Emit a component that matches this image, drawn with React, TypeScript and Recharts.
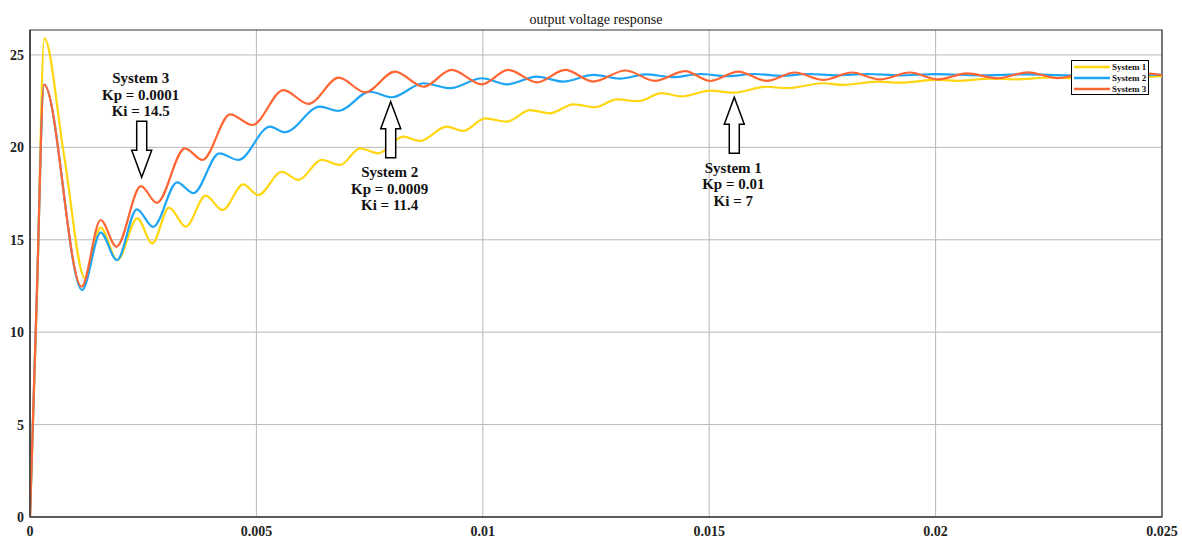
import React from "react";
import {
  LineChart,
  Line,
  XAxis,
  YAxis,
  CartesianGrid,
  ReferenceArea,
  ReferenceDot,
} from "recharts";

// ---- data ----
const xTicks = [0, 0.005, 0.01, 0.015, 0.02, 0.025];
const yTicks = [0, 5, 10, 15, 20, 25];
const yMax = 26.35;

const seriesNames = ["System 1", "System 2", "System 3"];
const seriesColors = ["#FFD60F", "#1FA5F5", "#FF6633"];

const sys1T = [0, 0.00015, 0.000316, 0.00075, 0.001215, 0.00156, 0.00193, 0.00237, 0.0027, 0.00307, 0.00344, 0.00388, 0.00425, 0.00471, 0.00504, 0.00556, 0.00593, 0.00644, 0.00685, 0.00729, 0.00769, 0.00824, 0.00861, 0.0092, 0.00957, 0.01005, 0.01053, 0.01104, 0.01148, 0.012, 0.01248, 0.01296, 0.01343, 0.01395, 0.01439, 0.01502, 0.01553, 0.01627, 0.01671, 0.01752, 0.01796, 0.0187, 0.01921, 0.02002, 0.02055, 0.0212, 0.0218, 0.0225, 0.0231, 0.0237, 0.0243, 0.025];
const sys1V = [0, 11.5, 25.9, 19.6, 12.92, 15.66, 13.9, 16.16, 14.81, 16.74, 15.71, 17.39, 16.61, 18.0, 17.42, 18.68, 18.24, 19.32, 19.05, 19.95, 19.68, 20.58, 20.35, 21.12, 20.89, 21.57, 21.39, 22.02, 21.84, 22.33, 22.17, 22.6, 22.5, 22.93, 22.76, 23.07, 22.96, 23.28, 23.2, 23.47, 23.38, 23.56, 23.5, 23.65, 23.6, 23.72, 23.68, 23.78, 23.74, 23.82, 23.78, 23.85];

const sys2T = [0, 0.00015, 0.00031, 0.00115, 0.00156, 0.00192, 0.00236, 0.00272, 0.00325, 0.00361, 0.00418, 0.0046, 0.0053, 0.00563, 0.0064, 0.00681, 0.00751, 0.00799, 0.00869, 0.00928, 0.00998, 0.01053, 0.01119, 0.01178, 0.01244, 0.01303, 0.0136, 0.0142, 0.0148, 0.0154, 0.016, 0.0166, 0.0172, 0.0178, 0.0185, 0.0192, 0.02, 0.021, 0.022, 0.023, 0.024, 0.025];
const sys2V = [0, 12, 23.4, 12.28, 15.39, 13.9, 16.65, 15.7, 18.11, 17.52, 19.68, 19.32, 21.12, 20.82, 22.2, 21.97, 23.01, 22.71, 23.47, 23.2, 23.74, 23.41, 23.83, 23.56, 23.92, 23.72, 23.95, 23.8, 23.97, 23.85, 23.97, 23.87, 23.97, 23.9, 23.97, 23.9, 23.96, 23.9, 23.95, 23.9, 23.95, 23.92];

const sys3T = [0, 0.00015, 0.00031, 0.00114, 0.00156, 0.00191, 0.00245, 0.0028, 0.00342, 0.00381, 0.00442, 0.00491, 0.0056, 0.00615, 0.00682, 0.0074, 0.00806, 0.00869, 0.00931, 0.00998, 0.01056, 0.0112, 0.01182, 0.01244, 0.01315, 0.0138, 0.01447, 0.01502, 0.01564, 0.01627, 0.01689, 0.01752, 0.01815, 0.01877, 0.01943, 0.02006, 0.02069, 0.02137, 0.02204, 0.0227, 0.02335, 0.024, 0.02465, 0.025];
const sys3V = [0, 12, 23.4, 12.46, 16.07, 14.63, 17.9, 17.0, 19.95, 19.32, 21.79, 21.21, 23.1, 22.35, 23.77, 22.98, 24.1, 23.28, 24.19, 23.41, 24.19, 23.52, 24.19, 23.56, 24.16, 23.6, 24.13, 23.59, 24.1, 23.6, 24.05, 23.65, 24.05, 23.68, 24.05, 23.68, 24.0, 23.74, 24.06, 23.75, 24.03, 23.78, 24.0, 23.9];

// annotation anchors (arrow tips) in data units
const annoT = [0.015554, 0.007966, 0.002467];
const annoV = [22.71, 22.47, 18.38];
const annoDir = ["up", "up", "down"];
const annoLines = [
  ["System 1", "Kp = 0.01", "Ki = 7"],
  ["System 2", "Kp = 0.0009", "Ki = 11.4"],
  ["System 3", "Kp = 0.0001", "Ki = 14.5"],
];

const build = (ts: number[], vs: number[]) => ts.map((t, i) => ({ t, v: vs[i] }));
const seriesData = [build(sys1T, sys1V), build(sys2T, sys2V), build(sys3T, sys3V)];

const FONT = "'Liberation Serif', 'Times New Roman', serif";

const makeArrow = (dir: string, lines: string[]) => (props: any) => {
  const { cx, cy } = props;
  if (cx == null || cy == null) return <g />;
  const s = dir === "up" ? 1 : -1;
  const headLen = 27;
  const headHalf = 10;
  const shaftHalf = 5;
  const shaftLen = 56;
  const pts = [
    [cx, cy],
    [cx + headHalf, cy + s * headLen],
    [cx + shaftHalf, cy + s * headLen],
    [cx + shaftHalf, cy + s * shaftLen],
    [cx - shaftHalf, cy + s * shaftLen],
    [cx - shaftHalf, cy + s * headLen],
    [cx - headHalf, cy + s * headLen],
  ]
    .map((p) => p.join(","))
    .join(" ");
  const baseY = dir === "up" ? cy + 75.5 : cy - 94;
  return (
    <g>
      <polygon points={pts} fill="#ffffff" stroke="#000000" strokeWidth={1.5} strokeLinejoin="miter" />
      {lines.map((l, i) => (
        <text
          key={i}
          x={cx - 1}
          y={baseY + i * 16.5}
          textAnchor="middle"
          fontFamily={FONT}
          fontWeight="bold"
          fontSize={15}
          fill="#111"
        >
          {l}
        </text>
      ))}
    </g>
  );
};

const LegendBox = () => (
  <div
    style={{
      position: "absolute",
      left: 1071,
      top: 60,
      width: 76,
      height: 33,
      border: "1px solid #000",
      background: "#fff",
    }}
  >
    {seriesNames.map((n, i) => (
      <div key={n} style={{ display: "flex", alignItems: "center", height: 11 }}>
        <svg width={38} height={6} style={{ display: "block" }}>
          <line x1={2} y1={3} x2={38} y2={3} stroke={seriesColors[i]} strokeWidth={2.5} />
        </svg>
        <span
          style={{
            fontFamily: FONT,
            fontWeight: "bold",
            fontSize: 9,
            lineHeight: "10px",
            color: "#111",
            marginLeft: 2,
            whiteSpace: "nowrap",
          }}
        >
          {n}
        </span>
      </div>
    ))}
  </div>
);

export default function App() {
  return (
    <div style={{ position: "absolute", left: 0, top: 0, width: 1182, height: 538, background: "#fff" }}>
      <div
        style={{
          position: "absolute",
          left: 30,
          width: 1132,
          top: 12,
          textAlign: "center",
          fontFamily: FONT,
          fontSize: 14,
          color: "#111",
          lineHeight: "16px",
        }}
      >
        output voltage response
      </div>
      <LineChart width={1182} height={538} margin={{ top: 30, right: 20, bottom: 0, left: 0 }}>
        <CartesianGrid stroke="#b8b8b8" strokeWidth={1} horizontalValues={yTicks} verticalValues={xTicks} />
        <XAxis
          dataKey="t"
          type="number"
          domain={[0, 0.025]}
          ticks={xTicks}
          allowDataOverflow
          height={21}
          tickLine={false}
          tickSize={5}
          tickMargin={4}
          axisLine={{ stroke: "#333", strokeWidth: 1.2 }}
          tick={{ fontFamily: FONT, fontWeight: "bold", fontSize: 14, fill: "#222" }}
          interval={0}
        />
        <YAxis
          dataKey="v"
          type="number"
          domain={[0, yMax]}
          ticks={yTicks}
          allowDataOverflow
          width={30}
          tickLine={false}
          tickSize={4}
          tickMargin={2}
          axisLine={{ stroke: "#333", strokeWidth: 1.2 }}
          tick={{ fontFamily: FONT, fontWeight: "bold", fontSize: 14, fill: "#222" }}
          interval={0}
        />
        <ReferenceArea
          x1={0}
          x2={0.025}
          y1={0}
          y2={yMax}
          fill="none"
          fillOpacity={0}
          stroke="#333"
          strokeWidth={1.2}
          ifOverflow="visible"
        />
        {seriesData.map((d, i) => (
          <Line
            key={seriesNames[i]}
            data={d}
            dataKey="v"
            name={seriesNames[i]}
            type="monotone"
            stroke={seriesColors[i]}
            strokeWidth={2.2}
            dot={false}
            activeDot={false}
            isAnimationActive={false}
          />
        ))}
        {annoT.map((t, i) => (
          <ReferenceDot
            key={"a" + i}
            x={t}
            y={annoV[i]}
            r={0}
            ifOverflow="visible"
            shape={makeArrow(annoDir[i], annoLines[i])}
          />
        ))}
      </LineChart>
      <LegendBox />
    </div>
  );
}
